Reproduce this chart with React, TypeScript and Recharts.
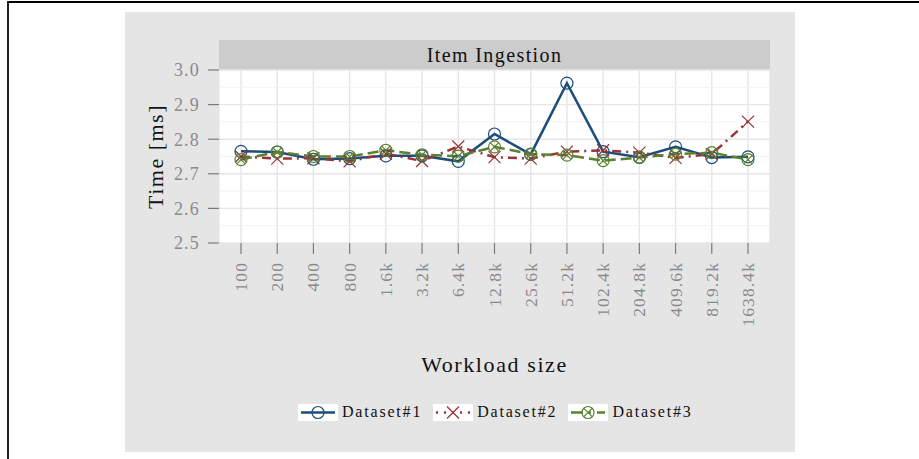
import React from 'react';
import { LineChart, Line, XAxis, YAxis, CartesianGrid, ReferenceLine } from 'recharts';

const CATEGORIES = ['100', '200', '400', '800', '1.6k', '3.2k', '6.4k', '12.8k', '25.6k', '51.2k', '102.4k', '204.8k', '409.6k', '819.2k', '1638.4k'];
const DATASET_1 = [2.765, 2.763, 2.742, 2.744, 2.752, 2.752, 2.736, 2.815, 2.756, 2.962, 2.764, 2.748, 2.778, 2.747, 2.749];
const DATASET_2 = [2.75, 2.744, 2.745, 2.736, 2.758, 2.737, 2.779, 2.748, 2.744, 2.764, 2.768, 2.761, 2.746, 2.757, 2.851];
const DATASET_3 = [2.741, 2.763, 2.75, 2.75, 2.768, 2.755, 2.751, 2.778, 2.757, 2.754, 2.738, 2.747, 2.757, 2.761, 2.741];
const Y_TICKS = [2.5, 2.6, 2.7, 2.8, 2.9, 3.0];
const Y_MINOR = [2.55, 2.65, 2.75, 2.85, 2.95];

const BLUE = '#1c4d7a';
const RED = '#963439';
const GREEN = '#5b8030';
const SERIF = '"Liberation Serif", "DejaVu Serif", serif';

const data = CATEGORIES.map((c, i) => ({ size: c, d1: DATASET_1[i], d2: DATASET_2[i], d3: DATASET_3[i] }));

// marker shapes
const CircleDot = (props: any) => {
  const { cx, cy } = props;
  if (cx == null || cy == null) return null;
  return <circle cx={cx} cy={cy} r={6} fill="none" stroke={BLUE} strokeWidth={1.2} />;
};

const CrossDot = (props: any) => {
  const { cx, cy } = props;
  if (cx == null || cy == null) return null;
  const s = 6;
  return (
    <g stroke={RED} strokeWidth={1.2}>
      <line x1={cx - s} y1={cy - s} x2={cx + s} y2={cy + s} />
      <line x1={cx - s} y1={cy + s} x2={cx + s} y2={cy - s} />
    </g>
  );
};

const CircleCrossDot = (props: any) => {
  const { cx, cy } = props;
  if (cx == null || cy == null) return null;
  const s = 4.2;
  return (
    <g stroke={GREEN} strokeWidth={1.2} fill="none">
      <circle cx={cx} cy={cy} r={6} />
      <line x1={cx - s} y1={cy - s} x2={cx + s} y2={cy + s} />
      <line x1={cx - s} y1={cy + s} x2={cx + s} y2={cy - s} />
    </g>
  );
};

const XTick = (props: any) => {
  const { x, y, payload } = props;
  return (
    <text
      x={x}
      y={y}
      transform={`rotate(-90 ${x} ${y})`}
      textAnchor="end"
      dominantBaseline="central"
      fill="#8a8a8a"
      fontFamily={SERIF}
      fontSize={17.5}
      letterSpacing={1.1}
    >
      {payload.value}
    </text>
  );
};

const LegendItem = ({ label, color, dash, Marker }: any) => (
  <div style={{ display: 'flex', alignItems: 'center', marginRight: 11 }}>
    <svg width={40} height={17} style={{ background: '#fff' }}>
      <line x1={3} y1={8.5} x2={37} y2={8.5} stroke={color} strokeWidth={2.5} strokeDasharray={dash} />
      <Marker cx={20} cy={8.5} />
    </svg>
    <span style={{ marginLeft: 4, fontFamily: SERIF, fontSize: 16, letterSpacing: 1.8, color: '#111' }}>{label}</span>
  </div>
);

export default function App() {
  return (
    <div style={{ position: 'absolute', left: 0, top: 0, width: 919, height: 459, background: '#fff', overflow: 'hidden' }}>
      <div style={{ position: 'absolute', left: 8, top: 1, width: 911, height: 2, background: '#000' }} />
      <div style={{ position: 'absolute', left: 7, top: 1, width: 2, height: 458, background: '#222' }} />
      <div style={{ position: 'absolute', left: 125, top: 12, width: 670, height: 440, background: '#e5e5e5' }}>
        <div
          style={{
            position: 'absolute', left: 94, top: 28, width: 551, height: 30, background: '#cccccc',
            display: 'flex', alignItems: 'center', justifyContent: 'center',
            fontFamily: SERIF, fontSize: 20, letterSpacing: 1.4, color: '#111'
          }}
        >
          Item Ingestion
        </div>
        <LineChart width={670} height={440} data={data} margin={{ top: 58, right: 25, bottom: 0, left: 0 }}>
          <CartesianGrid fill="#ffffff" stroke="#e6e6e6" strokeWidth={1.4} />
          {Y_MINOR.map((v) => (
            <ReferenceLine key={v} y={v} stroke="#f3f3f3" strokeWidth={1} ifOverflow="hidden" />
          ))}
          <XAxis
            dataKey="size"
            padding={{ left: 22, right: 22 }}
            axisLine={false}
            tickLine={{ stroke: '#7a7a7a', strokeWidth: 1.2 }}
            tickSize={11}
            tickMargin={8}
            height={209}
            interval={0}
            tick={<XTick />}
            label={{ value: 'Workload size', position: 'insideBottom', offset: 80, style: { fontFamily: SERIF, fontSize: 22, letterSpacing: 1.6, fill: '#111' } }}
          />
          <YAxis
            domain={[2.5, 3.0]}
            ticks={Y_TICKS}
            tickFormatter={(v: number) => v.toFixed(1)}
            axisLine={false}
            tickLine={{ stroke: '#7a7a7a', strokeWidth: 1.2 }}
            tickSize={11}
            tickMargin={8}
            width={94}
            tick={{ fill: '#8a8a8a', fontFamily: SERIF, fontSize: 18, letterSpacing: 1.2 }}
            label={{ value: 'Time [ms]', angle: -90, position: 'insideLeft', offset: 30, style: { textAnchor: 'middle', fontFamily: SERIF, fontSize: 22, letterSpacing: 1.5, fill: '#111' } }}
          />
          <Line dataKey="d1" stroke={BLUE} strokeWidth={2.5} dot={<CircleDot />} activeDot={false} isAnimationActive={false} />
          <Line dataKey="d2" stroke={RED} strokeWidth={2.5} strokeDasharray="9 5 2 5" dot={<CrossDot />} activeDot={false} isAnimationActive={false} />
          <Line dataKey="d3" stroke={GREEN} strokeWidth={2.5} strokeDasharray="11 5" dot={<CircleCrossDot />} activeDot={false} isAnimationActive={false} />
        </LineChart>
        <div style={{ position: 'absolute', left: 173, top: 391, display: 'flex' }}>
          <LegendItem label="Dataset#1" color={BLUE} dash={undefined} Marker={CircleDot} />
          <LegendItem label="Dataset#2" color={RED} dash="2 6" Marker={CrossDot} />
          <LegendItem label="Dataset#3" color={GREEN} dash="12 6 2 6" Marker={CircleCrossDot} />
        </div>
      </div>
    </div>
  );
}
